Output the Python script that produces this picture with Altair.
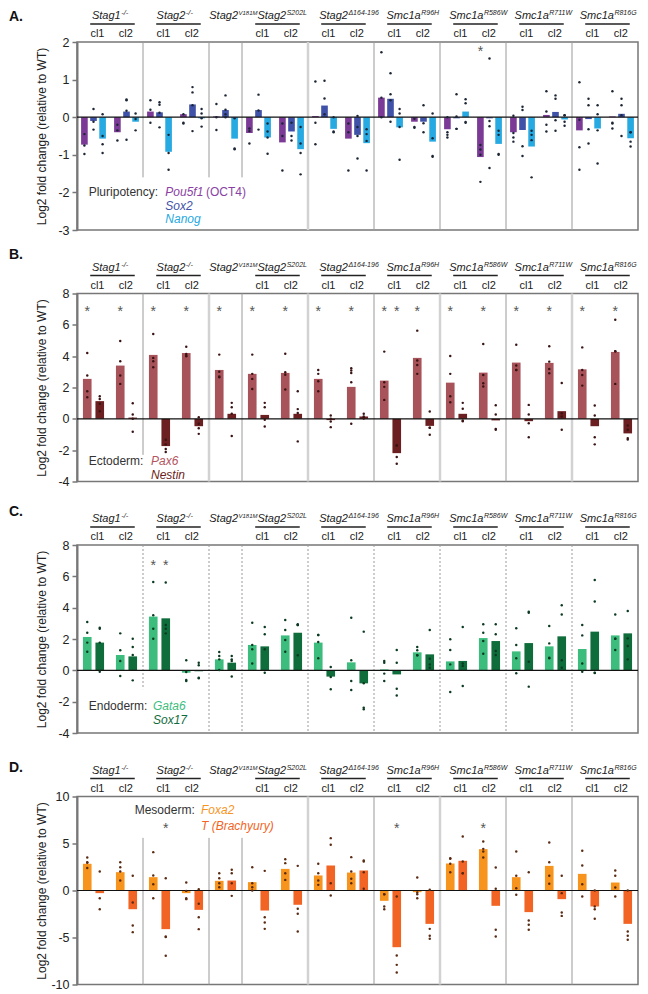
import altair as alt
import pandas as pd

# ---------------- categories ----------------
SLOTS = ["Stag1-/- cl1", "Stag1-/- cl2", "Stag2-/- cl1", "Stag2-/- cl2", "Stag2 V181M",
         "Stag2 S202L cl1", "Stag2 S202L cl2", "Stag2 D164-196 cl1", "Stag2 D164-196 cl2",
         "Smc1a R96H cl1", "Smc1a R96H cl2", "Smc1a R586W cl1", "Smc1a R586W cl2",
         "Smc1a R711W cl1", "Smc1a R711W cl2", "Smc1a R816G cl1", "Smc1a R816G cl2"]
CLONE = ["cl1", "cl2", "cl1", "cl2", "", "cl1", "cl2", "cl1", "cl2",
         "cl1", "cl2", "cl1", "cl2", "cl1", "cl2", "cl1", "cl2"]
GROUP_BASE = ["Stag1", "Stag2", "Stag2", "Stag2", "Stag2", "Smc1a", "Smc1a", "Smc1a", "Smc1a"]
GROUP_SUP = ["-/-", "-/-", "V181M", "S202L", "\u0394164-196", "R96H", "R586W", "R711W", "R816G"]
GROUP_SLOTS = [[0, 1], [2, 3], [4], [5, 6], [7, 8], [9, 10], [11, 12], [13, 14], [15, 16]]

# ---------------- panel A: pluripotency ----------------
A_GENES = ["Pou5f1", "Sox2", "Nanog"]
A_POU5F1 = [-0.73, -0.40, 0.15, 0.08, 0.02, -0.42, -0.67, 0.03, -0.57, 0.52, -0.12, -0.32, -1.06, -0.40, 0.06, -0.35, 0.02]
A_POU5F1_REPS = [[-0.45, -0.75, -0.98], [-0.2, -0.35, -0.62], [0.45, 0.2, -0.15], [0.08, -0.15, -0.17],
                 [0.35, 0.0, -0.34], [-0.3, -0.37, -0.7], [-0.17, -0.5, -1.42], [0.95, -0.15, -0.72],
                 [-0.17, -0.4, -1.42], [1.73, 0.52, 0.0], [-0.04, -0.28, -0.26], [0.0, -0.4, -0.47, -0.54],
                 [-0.74, -0.86, -1.0, -1.72], [0.04, -0.42, -0.54, -0.65], [0.69, 0.15, -0.2, -0.38],
                 [0.93, -0.07, -0.8, -1.4], [0.69, -0.15, -0.17, -0.3]]
A_SOX2 = [-0.10, 0.15, 0.13, 0.34, 0.19, 0.19, -0.38, 0.31, -0.47, 0.49, -0.12, -0.03, -0.03, -0.34, 0.14, -0.05, 0.09]
A_SOX2_REPS = [[0.22, -0.12, -0.33], [0.47, 0.45, 0.17, -0.6], [0.4, 0.33, 0.12, -0.27], [0.8, 0.66, 0.32, -0.37],
               [0.58, 0.2, 0.08, 0.0], [0.6, 0.18, -0.33], [-0.15, -0.5, -0.62], [0.97, 0.5, 0.08],
               [0.03, -0.26, -0.5, -1.1], [1.17, 0.61, 0.45, -0.12], [0.32, -0.16, -0.4], [0.61, 0.02, -0.31, -0.31],
               [1.56, -0.1, -0.24, -1.35], [0.28, 0.19, -0.77, -1.03], [0.58, 0.49, -0.08, -0.36],
               [0.49, 0.32, -0.32, -0.7], [0.49, 0.32, 0.05, -0.5]]
A_NANOG = [-0.57, -0.12, -0.92, -0.03, -0.57, -0.54, -0.85, -0.31, -0.69, -0.27, -0.65, 0.15, -0.71, -0.78, -0.06, -0.30, -0.56]
A_NANOG_REPS = [[0.08, -0.5, -0.72, -0.95], [0.1, -0.05, -0.35], [-0.47, -0.95, -1.4], [0.22, 0.1, -0.03, -0.25],
                [-0.03, -0.83, -0.85], [-0.17, -0.38, -0.54, -0.97], [-0.26, -0.7, -0.95, -1.52], [0.0, -0.4, -0.38],
                [-0.32, -0.45, -0.63, -1.42], [0.22, 0.1, -0.26, -1.13], [0.1, -0.56, -1.05, -1.03],
                [0.48, 0.37, -0.15, -0.13], [-0.36, -0.47, -1.0, -0.98], [-0.36, -0.47, -0.61, -1.6],
                [0.05, 0.05, -0.12, -0.23], [0.32, 0.08, -0.35, -1.23], [-0.4, -0.4, -0.65, -0.78]]
A_STARS = [(12, "Pou5f1")]
A_STAR_LEVEL = 1.85

# ---------------- panel B: ectoderm ----------------
B_GENES = ["Pax6", "Nestin"]
B_PAX6 = [2.55, 3.40, 4.08, 4.20, 3.12, 2.87, 2.93, 2.55, 2.04, 2.44, 3.89, 2.31, 2.95, 3.59, 3.57, 3.16, 4.27]
B_PAX6_REPS = [[4.2, 2.76, 1.76, 1.38], [4.97, 3.67, 2.76, 2.23], [5.41, 3.89, 3.67, 3.29], [4.6, 4.14, 4.03, 4.0],
               [4.1, 3.0, 2.65, 2.7], [4.1, 2.87, 2.55, 1.9], [4.16, 2.97, 2.82, 1.87], [3.12, 2.87, 2.4, 1.76],
               [3.23, 3.08, 2.93, 2.34, -0.32], [4.29, 2.34, 2.04, 1.21], [5.63, 3.72, 3.44, 2.87],
               [4.01, 2.87, 1.44, 1.06], [4.78, 2.8, 2.27, 2.06], [4.73, 3.4, 3.12, 3.12], [4.63, 3.65, 3.18, 2.91],
               [4.56, 3.12, 2.8, 2.12], [6.33, 4.31, 4.31, 2.23]]
B_NESTIN = [1.13, 0.08, -1.74, -0.47, 0.32, 0.25, 0.32, -0.08, 0.15, -2.19, -0.45, 0.32, -0.10, -0.15, 0.49, -0.47, -0.93]
B_NESTIN_REPS = [[1.44, 1.27, 0.96, 0.49], [1.0, 0.28, 0.0, -0.83], [-1.34, -1.63, -1.93, -2.12], [0.1, -0.32, -0.6, -0.96],
                 [1.02, 0.74, 0.32, -1.1], [1.02, 0.74, -0.06, -0.49], [1.76, 0.62, 0.38, -1.44], [0.21, 0.0, -0.17, -0.53],
                 [0.32, 0.15, 0.04, 0.04], [-1.7, -1.7, -2.44, -2.87], [0.47, -0.57, -0.57, -1.02], [1.02, 0.64, -0.15, -0.1],
                 [0.87, 0.28, -0.7, -0.64], [0.89, 0.28, -0.28, -1.17], [2.29, 0.36, 0.15, -0.7],
                 [0.85, 0.21, -1.17, -1.63], [-0.42, -0.7, -1.32, -1.23]]
B_STARS = [(i, "Pax6") for i in range(17)] + [(9, "Nestin")]
B_STAR_LEVEL = 7.1

# ---------------- panel C: endoderm ----------------
C_GENES = ["Gata6", "Sox17"]
C_GATA6 = [2.13, 0.98, 3.43, -0.15, 0.70, 1.62, 2.23, 1.77, 0.51, 0.06, 1.15, 0.57, 2.06, 1.21, 1.53, 1.36, 2.23]
C_GATA6_REPS = [[3.09, 2.4, 1.77, 1.19], [2.36, 1.28, 0.6, -0.36], [5.64, 3.51, 2.66, 2.02], [0.64, -0.1, -0.68, -0.62],
                [1.17, 0.91, 0.7, 0.02], [3.04, 1.62, 1.34, 0.43], [3.21, 2.57, 1.94, 1.19], [2.26, 2.26, 1.81, 0.77],
                [3.36, 0.64, -0.68, -1.26], [0.6, 0.49, -0.21, -0.68], [1.49, 1.28, 0.96, 0.96], [1.98, 1.3, 0.38, -1.38],
                [2.94, 2.4, 1.87, 1.06], [2.68, 1.62, 0.77, -0.19], [2.83, 1.72, 0.77, 0.81], [2.89, 2.23, 0.43, -0.09],
                [3.57, 2.02, 2.02, 1.3]]
C_SOX17 = [1.77, 0.89, 3.32, -0.06, 0.49, 1.53, 2.40, -0.40, -0.83, -0.26, 1.02, 0.60, 1.87, 1.74, 2.17, 2.47, 2.36]
C_SOX17_REPS = [[2.66, 2.72, 1.77, -0.09], [2.02, 1.49, 0.98, -0.64], [5.6, 2.89, 2.66, 2.36], [0.49, 0.32, -0.51, -0.47],
                [0.91, 0.6, 0.7, -0.4], [2.77, 2.3, 1.34, -0.15], [2.89, 2.94, 2.89, 0.96], [0.21, -0.43, -1.21],
                [2.47, -0.83, -2.49, -2.38], [1.3, 0.49, -1.17, -1.6], [2.57, 0.74, 0.38, 0.17], [2.77, 0.43, 0.28, -1.0],
                [2.94, 2.3, 1.23, 0.98], [3.68, 3.74, 0.55, -1.04], [4.15, 3.57, 0.64, 0.17], [5.77, 4.4, -0.17, -0.15],
                [3.79, 2.04, 1.55, 0.7]]
C_STARS = [(2, "Gata6"), (2, "Sox17")]
C_STAR_LEVEL = 6.9

# ---------------- panel D: mesoderm ----------------
D_GENES = ["Foxa2", "T"]
D_FOXA2 = [2.84, 1.95, 1.42, -0.28, 1.03, 0.89, 2.30, 1.60, 1.91, -1.10, -0.18, 2.87, 4.40, 1.42, 2.62, 1.77, 0.85]
D_FOXA2_REPS = [[3.51, 3.0, 2.95, 2.4], [3.01, 2.48, 2.02, 1.06], [4.08, 1.6, 0.67, -0.82], [0.85, -0.04, -0.92, -0.82],
                [1.84, 1.31, 0.78, 0.35], [2.48, 0.78, 0.35, 0.0], [3.33, 2.91, 1.84, 1.13], [2.84, 1.84, 1.06, 0.6],
                [3.55, 2.02, 1.24, 0.78], [-0.39, -0.39, -1.7, -1.99], [1.38, -0.21, -0.39, -0.82], [3.37, 3.44, 2.84, 1.95],
                [5.21, 4.43, 4.15, 3.51], [4.15, 1.56, 0.25, -0.46], [5.11, 3.01, 1.56, 0.71], [4.22, 2.66, 0.67, -0.64],
                [2.13, 1.56, 0.32, -0.64]]
D_T = [-0.28, -1.99, -4.11, -2.06, 1.06, -2.13, -1.52, 2.66, 2.13, -6.03, -3.55, 3.16, -1.63, -2.30, -0.92, -1.70, -3.55]
D_T_REPS = [[2.02, -0.82, -1.99], [1.56, -1.28, -3.72, -4.43], [1.31, -4.89, -4.96, -6.95], [0.14, -1.42, -2.84, -4.11],
            [2.2, 1.84, 0.78, -0.57], [2.09, -2.84, -3.4, -4.08], [2.62, -1.95, -2.48, -4.36], [5.57, 4.86, 0.78, -0.53],
            [3.09, 3.19, 1.95, 0.18], [-0.64, -6.91, -7.91, -8.72], [0.07, -4.08, -4.82, -5.14], [5.74, 3.09, 1.84, 1.84],
            [2.45, 0.18, -4.18, -4.89], [1.95, -3.19, -3.65, -4.18], [1.56, -0.28, -2.34, -2.7], [0.0, -1.7, -1.99, -3.01],
            [0.0, -4.36, -4.82, -5.25]]
D_STARS = [(2, "T"), (9, "T"), (12, "Foxa2")]
D_STAR_LEVEL = 7.0

# ---------------- layout / style ----------------
FONT = "Liberation Sans"
W, H = 561, 188
TXT = "#222222"
# horizontal nudge (px) of each genotype label's base/superscript junction from its anchor
HEADER_DX = [10.7, 9.3, -4, 11.2, 6.9, 13.7, 10.4, 9.8, 8.9]
SUP_SIZE = [7.5, 7.5, 6, 7, 7, 7, 7, 7, 7]

xscale = alt.Scale(type="band", domain=SLOTS, paddingInner=0, paddingOuter=0)


def xenc(field="slot", bp=None):
    kw = dict(scale=xscale, axis=None)
    if bp is not None:
        kw["bandPosition"] = bp
    return alt.X(f"{field}:N", **kw)


def header_layers():
    layers = []
    for k, s in enumerate(GROUP_SLOTS):
        df = pd.DataFrame([{"base": GROUP_BASE[k], "sup": GROUP_SUP[k], "a": SLOTS[s[0]], "b": SLOTS[s[-1]]}])
        dx = HEADER_DX[k]
        layers.append(alt.Chart(df).mark_text(align="right", baseline="alphabetic", dx=dx, fontSize=11,
                                              fontStyle="italic", color=TXT)
                      .encode(x=xenc("a", 1), y=alt.value(-23), text="base:N"))
        layers.append(alt.Chart(df).mark_text(align="left", baseline="alphabetic", dx=dx + 0.5,
                                              fontSize=SUP_SIZE[k], fontStyle="italic", color=TXT)
                      .encode(x=xenc("a", 1), y=alt.value(-27), text="sup:N"))
    two = pd.DataFrame([{"a": SLOTS[s[0]], "b": SLOTS[s[1]]} for s in GROUP_SLOTS if len(s) == 2])
    layers.append(alt.Chart(two).mark_rule(color=TXT, strokeWidth=1.3)
                  .encode(x=xenc("a", 0.4), x2=alt.X2("b:N", bandPosition=0.75), y=alt.value(-18)))
    clones = pd.DataFrame({"slot": SLOTS, "clone": CLONE})
    layers.append(alt.Chart(clones[clones.clone == "cl1"]).mark_text(baseline="alphabetic", fontSize=11, color=TXT)
                  .encode(x=xenc("slot", 0.62), y=alt.value(-5), text="clone:N"))
    layers.append(alt.Chart(clones[clones.clone == "cl2"]).mark_text(baseline="alphabetic", fontSize=11, color=TXT)
                  .encode(x=xenc("slot", 0.48), y=alt.value(-5), text="clone:N"))
    return layers


def panel(letter, letter_y, genes, means, reps, colors, dot_color, domain, ticks,
          stars, star_level, seps, light, dash, legend, pin, pout):
    yscale = alt.Scale(domain=domain, nice=False, zero=False)
    yaxis = alt.Axis(values=ticks, title="Log2 fold change (relative to WT)", grid=False,
                     labelExpr="'' + datum.value",
                     titleFontSize=12, titleFontWeight="normal", titleColor=TXT, titleX=-36, titleY=H / 2,
                     titleAngle=270, titleAlign="center", titleBaseline="middle",
                     labelFontSize=12.5, labelColor=TXT, labelPadding=3, labelFlush=False, labelOverlap=False,
                     tickSize=5, tickColor="#777777", tickWidth=1.5, domainColor="#777777", domainWidth=2)

    def yenc(field):
        return alt.Y(f"{field}:Q", scale=yscale, axis=yaxis)

    bars = pd.DataFrame([{"slot": SLOTS[i], "gene": g, "value": m[i]}
                         for g, m in zip(genes, means) for i in range(len(SLOTS))])
    dots = pd.DataFrame([{"slot": SLOTS[i], "gene": g, "value": v}
                         for g, r in zip(genes, reps) for i in range(len(SLOTS)) for v in r[i]])
    star_df = pd.DataFrame([{"slot": SLOTS[i], "gene": g, "value": star_level} for i, g in stars])
    sep_df = pd.DataFrame([{"slot": SLOTS[i], "value": t, "bottom": b, "light": i in light} for i, t, b in seps])

    xoff = alt.XOffset("gene:N", scale=alt.Scale(domain=genes, paddingInner=pin, paddingOuter=pout))

    layers = [alt.Chart(bars).mark_bar().encode(
        x=xenc(), xOffset=xoff, y=yenc("value"),
        color=alt.Color("gene:N", scale=alt.Scale(domain=genes, range=colors), legend=None))]
    for is_light in (False, True):
        sub = sep_df[sep_df.light == is_light]
        if len(sub) == 0:
            continue
        kw = dict(color="#d2d2d2", strokeWidth=2.5) if is_light else dict(color="#9a9a9a", strokeWidth=1)
        if dash:
            kw["strokeDash"] = [2, 2]
        layers.append(alt.Chart(sub).mark_rule(**kw).encode(
            x=xenc("slot", 0), y=yenc("value"), y2="bottom:Q"))
    layers.append(alt.Chart(pd.DataFrame({"value": [0]})).mark_rule(color="#111111", strokeWidth=1.2)
                  .encode(y=yenc("value")))
    layers.append(alt.Chart(dots).mark_circle(size=6, color=dot_color, opacity=1).encode(
        x=xenc(), xOffset=xoff, y=yenc("value")))
    layers.append(alt.Chart(star_df).mark_text(text="*", fontSize=14, color="#555555", baseline="middle", dy=4)
                  .encode(x=xenc(), xOffset=xoff, y=yenc("value")))
    layers += header_layers()
    for txt, col, italic, px, py in legend:
        layers.append(alt.Chart(pd.DataFrame({"t": [txt]})).mark_text(
            align="left", baseline="alphabetic", fontSize=12, color=col,
            fontStyle="italic" if italic else "normal")
            .encode(text="t:N", x=alt.value(px), y=alt.value(py)))
    layers.append(alt.Chart(pd.DataFrame({"t": [letter]})).mark_text(
        align="left", baseline="alphabetic", fontSize=14, fontWeight="bold", color="#111111")
        .encode(text="t:N", x=alt.value(-68), y=alt.value(letter_y)))
    return alt.layer(*layers).properties(width=W, height=H)


SEP_A = [(2, 2, -1.6), (4, 2, -1.6), (5, 2, -1.6), (7, 2, -3), (9, 2, -3), (11, 2, -3), (13, 2, -3), (15, 2, -3)]
SEP_B = [(2, 8, -2.3)] + [(i, 8, -4) for i in (4, 5, 7, 9, 11, 13, 15)]
SEP_C = [(2, 8, -1.2)] + [(i, 8, -4) for i in (4, 5, 7, 9, 11, 13, 15)]
SEP_D = [(i, 5.6, -10) for i in (2, 4, 5)] + [(i, 10, -10) for i in (7, 9, 11, 13, 15)]

pA = panel("A.", -21.5, A_GENES, [A_POU5F1, A_SOX2, A_NANOG], [A_POU5F1_REPS, A_SOX2_REPS, A_NANOG_REPS],
           ["#7b3a96", "#3f52a8", "#27a9e1"], "#1c2636", [-3, 2], [-3, -2, -1, 0, 1, 2],
           A_STARS, A_STAR_LEVEL, SEP_A, [7], False,
           [("Pluripotency:", "#333333", False, 11.7, 154),
            ("Pou5f1", "#8a3fa3", True, 88.3, 154),
            ("(OCT4)", "#8a3fa3", False, 129, 154),
            ("Sox2", "#3f52a8", True, 88.3, 167.5),
            ("Nanog", "#27a9e1", True, 88.3, 181)], 0.27, 0.45)

pB = panel("B.", -35, B_GENES, [B_PAX6, B_NESTIN], [B_PAX6_REPS, B_NESTIN_REPS],
           ["#a8535a", "#6b1f20"], "#3a1414", [-4, 8], [-4, -2, 0, 2, 4, 6, 8],
           B_STARS, B_STAR_LEVEL, SEP_B, [4, 7, 11, 15], False,
           [("Ectoderm:", "#333333", False, 11.7, 171.5),
            ("Pax6", "#b3545e", True, 74, 171.5),
            ("Nestin", "#6b1f20", True, 74, 185.5)], 0.31, 0.475)

pC = panel("C.", -29, C_GENES, [C_GATA6, C_SOX17], [C_GATA6_REPS, C_SOX17_REPS],
           ["#3dbd7d", "#0f6c3b"], "#0b3a20", [-4, 8], [-4, -2, 0, 2, 4, 6, 8],
           C_STARS, C_STAR_LEVEL, SEP_C, [], True,
           [("Endoderm:", "#333333", False, 11.7, 165),
            ("Gata6", "#3dbd7d", True, 76, 165),
            ("Sox17", "#0f6c3b", True, 76, 179)], 0.31, 0.475)

pD = panel("D.", -25, D_GENES, [D_FOXA2, D_T], [D_FOXA2_REPS, D_T_REPS],
           ["#f7941e", "#f26424"], "#5a2a12", [-10, 10], [-10, -5, 0, 5, 10],
           D_STARS, D_STAR_LEVEL, SEP_D, [7, 11], False,
           [("Mesoderm:", "#333333", False, 57.7, 17.5),
            ("Foxa2", "#f7941e", True, 124, 17.5),
            ("T (Brachyury)", "#f26424", True, 124, 33.5)], 0.31, 0.475)

chart = (alt.vconcat(pA, pB, pC, pD, spacing=63.5, bounds="flush")
         .resolve_scale(y="independent", color="independent", xOffset="independent")
         .properties(padding={"left": 0, "top": 0, "right": 0, "bottom": 0})
         .configure(font=FONT)
         .configure_view(stroke="#777777", strokeWidth=1.5))

chart.save("out.html", embed_options={"renderer": "svg", "actions": False})
